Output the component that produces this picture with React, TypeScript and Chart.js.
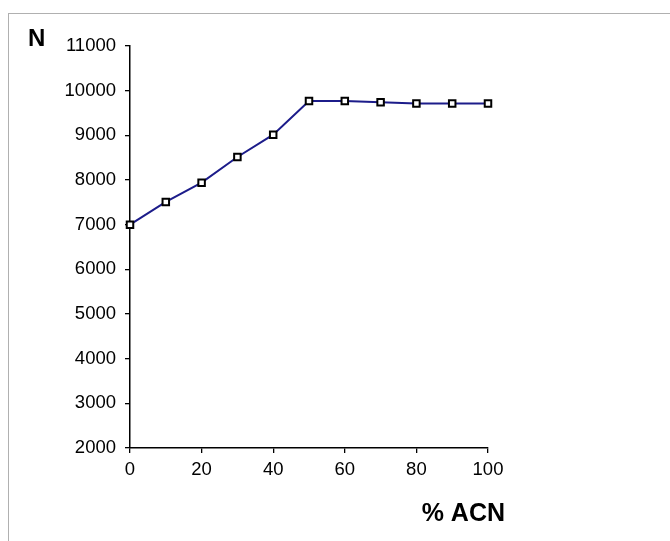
import React, { useEffect, useRef } from "react";
import { Chart, registerables } from "chart.js";

Chart.register(...registerables);

const acnPercent = [0, 10, 20, 30, 40, 50, 60, 70, 80, 90, 100];
const nValues = [7000, 7510, 7940, 8515, 9015, 9770, 9770, 9740, 9710, 9710, 9710];
const yTitle = "N";
const xTitle = "% ACN";

const FONT = "'Liberation Sans', Arial, sans-serif";

const titlePlugin = {
  id: "titles",
  afterDraw(chart: any) {
    const ctx = chart.ctx;
    ctx.save();
    ctx.fillStyle = "#000";
    ctx.textBaseline = "middle";
    ctx.font = `bold 24px ${FONT}`;
    ctx.textAlign = "left";
    ctx.fillText(yTitle, 28, 39);
    ctx.font = `bold 25px ${FONT}`;
    ctx.textAlign = "right";
    ctx.fillText(xTitle, 505, 514);
    ctx.restore();
  },
};

export default function App() {
  const ref = useRef<HTMLCanvasElement>(null);
  useEffect(() => {
    if (!ref.current) return;
    const chart = new Chart(ref.current, {
      type: "line",
      data: {
        datasets: [
          {
            data: acnPercent.map((x, i) => ({ x, y: nValues[i] })),
            borderColor: "#1c1c8a",
            borderWidth: 2,
            pointStyle: "rect",
            pointRadius: 4.6,
            pointBorderColor: "#000",
            pointBorderWidth: 2,
            pointBackgroundColor: "#fff",
            tension: 0,
            fill: false,
            clip: false,
          },
        ],
      },
      options: {
        animation: false,
        responsive: false,
        events: [],
        layout: { padding: { left: 0, right: 182, top: 46, bottom: 0 } },
        plugins: { legend: { display: false }, tooltip: { enabled: false } },
        scales: {
          x: {
            type: "linear",
            min: 0,
            max: 100,
            afterFit: (s: any) => {
              s.height = 93;
            },
            ticks: {
              stepSize: 20,
              color: "#000",
              font: { family: FONT, size: 18.5 },
              padding: 6,
              maxRotation: 0,
              callback: (v: any) => String(v),
            },
            grid: { drawOnChartArea: false, drawTicks: true, tickLength: 5, color: "#000", lineWidth: 1.3 },
            border: { display: true, color: "#000", width: 1.5 },
          },
          y: {
            type: "linear",
            min: 2000,
            max: 11000,
            afterFit: (s: any) => {
              s.width = 130;
            },
            ticks: {
              stepSize: 1000,
              color: "#000",
              font: { family: FONT, size: 18.5 },
              padding: 9,
              callback: (v: any) => String(v),
            },
            grid: { drawOnChartArea: false, drawTicks: true, tickLength: 5, color: "#000", lineWidth: 1.3 },
            border: { display: true, color: "#000", width: 1.5 },
          },
        },
      },
      plugins: [titlePlugin],
    });
    return () => chart.destroy();
  }, []);
  return (
    <>
      <div
        style={{
          position: "absolute",
          left: 8,
          top: 13,
          width: 662,
          height: 528,
          borderTop: "1.5px solid #b0b0b0",
          borderLeft: "1.5px solid #b0b0b0",
          boxSizing: "border-box",
        }}
      />
      <canvas
        ref={ref}
        width={670}
        height={541}
        style={{ position: "absolute", left: 0, top: 0, width: 670, height: 541 }}
      />
    </>
  );
}
